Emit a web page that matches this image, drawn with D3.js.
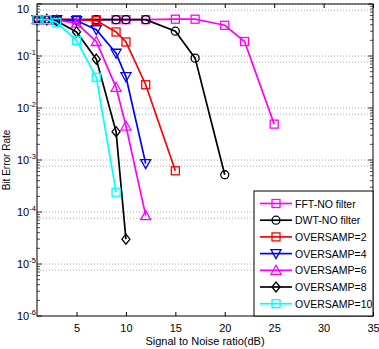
<!DOCTYPE html>
<html>
<head>
<meta charset="utf-8">
<script src="https://cdn.jsdelivr.net/npm/d3@7"></script>
<style>
  body { margin: 0; background: #fff; }
  text { font-family: "Liberation Sans", Arial, sans-serif; }
</style>
</head>
<body>
<div id="chart"></div>
<script>
// dữ liệu
const snrFFT = [1, 2, 3, 5, 7, 9, 10, 12, 15, 17, 20, 22, 25];
const berFFT = [0.5, 0.5, 0.5, 0.5, 0.5, 0.5, 0.5, 0.5, 0.51, 0.51, 0.39, 0.19, 0.0049];
const snrDWT = [1, 2, 3, 5, 7, 9, 10, 12, 15, 17, 20];
const berDWT = [0.5, 0.5, 0.5, 0.5, 0.5, 0.5, 0.5, 0.5, 0.30, 0.091, 0.00052];
const snrOS2 = [1, 2, 3, 5, 7, 9, 10, 12, 15];
const berOS2 = [0.5, 0.5, 0.5, 0.5, 0.48, 0.29, 0.186, 0.028, 0.00062];
const snrOS4 = [1, 2, 3, 5, 7, 9, 10, 12];
const berOS4 = [0.5, 0.5, 0.5, 0.48, 0.32, 0.113, 0.04, 0.00085];
const snrOS6 = [1, 2, 3, 5, 7, 9, 10, 12];
const berOS6 = [0.5, 0.5, 0.49, 0.43, 0.19, 0.025, 0.0045, 0.000085];
const snrOS8 = [1, 2, 3, 5, 7, 9, 10];
const berOS8 = [0.5, 0.5, 0.47, 0.29, 0.087, 0.0035, 0.00003];
const snrOS10 = [1, 2, 3, 5, 7, 9];
const berOS10 = [0.5, 0.5, 0.44, 0.2, 0.039, 0.00024];

const seriesNames = ["FFT-NO filter", "DWT-NO filter", "OVERSAMP=2", "OVERSAMP=4", "OVERSAMP=6", "OVERSAMP=8", "OVERSAMP=10"];
const seriesColors = ["#ff00ff", "#000000", "#ff0000", "#0000ff", "#ff00ff", "#000000", "#00ffff"];
const seriesMarkers = ["square", "circle", "square", "triangleDown", "triangle", "diamond", "square"];
const xTicks = [5, 10, 15, 20, 25, 30, 35];
const yExps = [0, -1, -2, -3, -4, -5, -6];

const series = [
  [snrFFT, berFFT], [snrDWT, berDWT], [snrOS2, berOS2], [snrOS4, berOS4],
  [snrOS6, berOS6], [snrOS8, berOS8], [snrOS10, berOS10]
].map(([xs, ys], i) => ({
  name: seriesNames[i], color: seriesColors[i], marker: seriesMarkers[i],
  pts: xs.map((x, j) => ({ x, y: ys[j] }))
}));

const W = 379, H = 349;
const margin = { top: 4, right: 6, bottom: 33, left: 37 };
const innerW = W - margin.left - margin.right;
const innerH = H - margin.top - margin.bottom;

const svg = d3.select("#chart").append("svg")
  .attr("width", W).attr("height", H);
const g = svg.append("g").attr("transform", `translate(${margin.left},${margin.top})`);

const x = d3.scaleLinear().domain([1, 35]).range([0, innerW]);
const y = d3.scaleLog().domain([1e-6, 1]).range([innerH, 0]);

// grid ngang (nét chấm, đôi)
yExps.forEach(e => {
  [0, 0.12].forEach(off => {
    const yy = y(Math.pow(10, e - off));
    if (yy > innerH - 1) return;
    g.append("line")
      .attr("x1", 0).attr("x2", innerW)
      .attr("y1", yy).attr("y2", yy)
      .attr("stroke", "#888").attr("stroke-width", 0.7)
      .attr("stroke-dasharray", "1,2");
  });
});

// khung
g.append("rect").attr("width", innerW).attr("height", innerH)
  .attr("fill", "none").attr("stroke", "#000").attr("stroke-width", 1);

// ticks trục x
const xAxis = d3.axisBottom(x).tickValues(xTicks).tickSize(-4).tickSizeOuter(0).tickPadding(8);
const gx = g.append("g").attr("transform", `translate(0,${innerH})`).call(xAxis);
gx.select(".domain").remove();
gx.selectAll("text").style("font-size", "11px").attr("fill", "#000")
  .style("font-family", "'Liberation Sans', Arial, sans-serif");
const gxTop = g.append("g").call(d3.axisTop(x).tickValues(xTicks).tickSize(-4).tickSizeOuter(0).tickFormat(""));
gxTop.select(".domain").remove();

// ticks trục y (major + minor)
const minor = [];
for (let e = -6; e < 0; e++) for (let k = 2; k <= 9; k++) minor.push(k * Math.pow(10, e));
[0, innerW].forEach((xx, side) => {
  const dir = side === 0 ? 1 : -1;
  yExps.forEach(e => {
    g.append("line").attr("x1", xx).attr("x2", xx + dir * 5)
      .attr("y1", y(Math.pow(10, e))).attr("y2", y(Math.pow(10, e)))
      .attr("stroke", "#000").attr("stroke-width", 0.8);
  });
  minor.forEach(v => {
    g.append("line").attr("x1", xx).attr("x2", xx + dir * 3)
      .attr("y1", y(v)).attr("y2", y(v))
      .attr("stroke", "#000").attr("stroke-width", 0.7);
  });
});

// nhãn y dạng 10^n
yExps.forEach(e => {
  const yy = e === 0 ? 9 : y(Math.pow(10, e)) + 4;
  const t = g.append("text")
    .attr("x", -20).attr("y", yy)
    .attr("text-anchor", "start")
    .style("font-size", "11px");
  t.append("tspan").text("10");
  if (e !== 0) {
    t.append("tspan").attr("dy", -5).style("font-size", "7.5px").text(e);
  }
});

// nhãn trục
svg.append("text")
  .attr("x", margin.left + innerW / 2).attr("y", H - 4)
  .attr("text-anchor", "middle").style("font-size", "11px")
  .text("Signal to Noise ratio(dB)");
svg.append("text")
  .attr("transform", `translate(10,${margin.top + innerH / 2}) rotate(-90)`)
  .attr("text-anchor", "middle").style("font-size", "10px")
  .text("Bit Error Rate");

// marker
function drawMarker(sel, type, color, cx, cy) {
  const s = 4;
  if (type === "square") {
    sel.append("rect").attr("x", cx - s).attr("y", cy - s).attr("width", 2 * s).attr("height", 2 * s)
      .attr("fill", "none").attr("stroke", color).attr("stroke-width", 1.3);
  } else if (type === "circle") {
    sel.append("circle").attr("cx", cx).attr("cy", cy).attr("r", 4)
      .attr("fill", "none").attr("stroke", color).attr("stroke-width", 1.3);
  } else if (type === "triangle") {
    sel.append("path").attr("d", `M${cx},${cy - 5}L${cx + 5},${cy + 4}L${cx - 5},${cy + 4}Z`)
      .attr("fill", "none").attr("stroke", color).attr("stroke-width", 1.3);
  } else if (type === "triangleDown") {
    sel.append("path").attr("d", `M${cx},${cy + 5}L${cx + 5},${cy - 4}L${cx - 5},${cy - 4}Z`)
      .attr("fill", "none").attr("stroke", color).attr("stroke-width", 1.3);
  } else if (type === "diamond") {
    sel.append("path").attr("d", `M${cx},${cy - 5}L${cx + 4},${cy}L${cx},${cy + 5}L${cx - 4},${cy}Z`)
      .attr("fill", "none").attr("stroke", color).attr("stroke-width", 1.3);
  }
}

const line = d3.line().x(d => x(d.x)).y(d => y(d.y));
series.forEach(s => {
  const sg = g.append("g");
  sg.append("path").datum(s.pts).attr("d", line)
    .attr("fill", "none").attr("stroke", s.color).attr("stroke-width", 1.7);
  s.pts.forEach(p => drawMarker(sg, s.marker, s.color, x(p.x), y(p.y)));
});

// legend
const lgW = 119, lgH = 125;
const lg = g.append("g").attr("transform", `translate(${innerW - lgW},${innerH - lgH})`);
lg.append("rect").attr("width", lgW).attr("height", lgH)
  .attr("fill", "#fff").attr("stroke", "#000").attr("stroke-width", 1);
series.forEach((s, i) => {
  const yy = 12.5 + i * 16.7;
  lg.append("line").attr("x1", 6).attr("x2", 38).attr("y1", yy).attr("y2", yy)
    .attr("stroke", s.color).attr("stroke-width", 1.7);
  drawMarker(lg, s.marker, s.color, 22, yy);
  lg.append("text").attr("x", 41).attr("y", yy + 4)
    .style("font-size", "10.5px").text(s.name);
});
</script>
</body>
</html>
